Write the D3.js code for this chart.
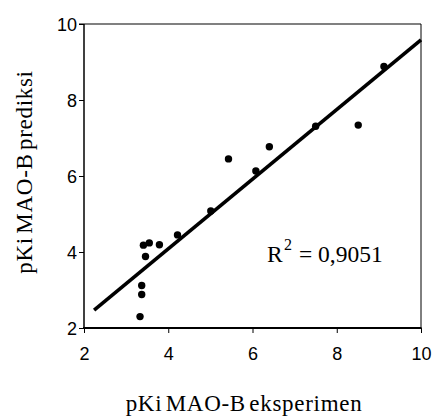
<!DOCTYPE html>
<html>
<head>
<meta charset="utf-8">
<script src="https://cdn.jsdelivr.net/npm/d3@7"></script>
<style>
  body { margin: 0; background: #fff; }
</style>
</head>
<body>
<script>
var eksperimen = [3.33, 3.37, 3.37, 3.46, 3.41, 3.55, 3.79, 4.22, 5.01, 5.43, 6.08, 6.40, 7.50, 8.51, 9.12];
var prediksi   = [2.30, 2.88, 3.12, 3.88, 4.18, 4.24, 4.19, 4.45, 5.08, 6.45, 6.13, 6.77, 7.31, 7.34, 8.88];
var trendSlope = 0.916;
var trendIntercept = 0.42;
var trendRange = [2.24, 10];
var ticks = [2, 4, 6, 8, 10];

var width = 433, height = 418;
var margin = { top: 24, right: 12, bottom: 90, left: 84 };

var svg = d3.select("body").append("svg")
    .attr("width", width)
    .attr("height", height);

var x = d3.scaleLinear().domain([2, 10]).range([margin.left, width - margin.right]);
var y = d3.scaleLinear().domain([2, 10]).range([height - margin.bottom, margin.top]);

// frame: gray top, thin right
svg.append("line")
    .attr("x1", x(2) - 5).attr("x2", x(10))
    .attr("y1", y(10)).attr("y2", y(10))
    .attr("stroke", "#808080").attr("stroke-width", 2);
svg.append("line")
    .attr("x1", x(10)).attr("x2", x(10))
    .attr("y1", y(10)).attr("y2", y(2))
    .attr("stroke", "#000").attr("stroke-width", 1);

// axes
var xAxis = svg.append("g")
    .attr("transform", "translate(0," + y(2) + ")")
    .call(d3.axisBottom(x).tickValues(ticks).tickSize(5).tickPadding(14));
var yAxis = svg.append("g")
    .attr("transform", "translate(" + x(2) + ",0)")
    .call(d3.axisLeft(y).tickValues(ticks).tickSize(5).tickPadding(2));

xAxis.select(".domain").attr("stroke-width", 2).attr("d", "M" + (x(2) - 1) + ",0H" + (x(10) + 0.5));
yAxis.select(".domain").attr("stroke-width", 1.5).attr("d", "M0," + y(2) + "V" + y(10));
[xAxis, yAxis].forEach(function(a) {
  a.selectAll("text")
    .style("font-family", "'Liberation Sans', Arial, sans-serif")
    .style("font-size", "18px")
    .attr("fill", "#000");
  a.selectAll(".tick line").attr("stroke", "#000");
});
yAxis.selectAll("text").attr("dy", "0.36em");

// trend line
svg.append("line")
    .attr("x1", x(trendRange[0]))
    .attr("y1", y(trendSlope * trendRange[0] + trendIntercept))
    .attr("x2", x(trendRange[1]))
    .attr("y2", y(trendSlope * trendRange[1] + trendIntercept))
    .attr("stroke", "#000")
    .attr("stroke-width", 3.6);

// points
svg.selectAll("circle")
    .data(eksperimen)
    .enter()
    .append("circle")
    .attr("cx", function(d) { return x(d); })
    .attr("cy", function(d, i) { return y(prediksi[i]); })
    .attr("r", 3.7)
    .attr("fill", "#000");

// R squared label
var serif = "'Liberation Serif', 'Times New Roman', serif";
var r2 = svg.append("text")
    .attr("y", 262)
    .style("font-family", serif)
    .style("font-size", "23.5px");
r2.append("tspan").attr("x", 267).text("R");
r2.append("tspan").attr("x", 284).attr("dy", -12).style("font-size", "16px").text("2");
r2.append("tspan").attr("x", 299).attr("dy", 12).text("=");
r2.append("tspan").attr("x", 318).text("0,9051");

// axis titles
svg.append("text")
    .attr("x", 244).attr("y", 411)
    .attr("text-anchor", "middle")
    .style("font-family", serif)
    .style("font-size", "23px")
    .style("letter-spacing", "0.7px")
    .style("word-spacing", "-3px")
    .text("pKi MAO-B eksperimen");

svg.append("text")
    .attr("transform", "translate(32,172) rotate(-90)")
    .attr("text-anchor", "middle")
    .style("font-family", serif)
    .style("font-size", "23px")
    .style("letter-spacing", "0.7px")
    .style("word-spacing", "-3px")
    .text("pKi MAO-B prediksi");
</script>
</body>
</html>
